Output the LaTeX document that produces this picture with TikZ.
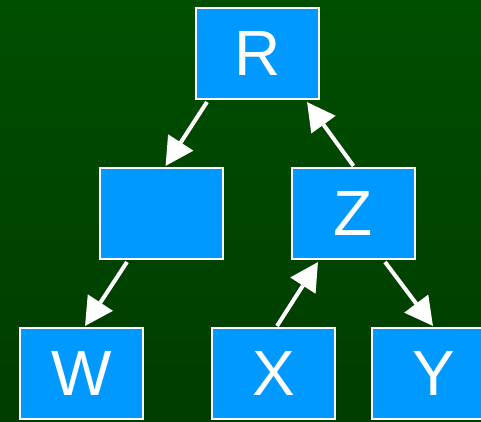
\documentclass[tikz,border=0pt]{standalone}
\usepackage{fontspec}
\setmainfont{Liberation Sans}
\usetikzlibrary{arrows.meta,calc}
\definecolor{boxblue}{HTML}{0099FF}
\definecolor{bgtop}{HTML}{004E00}
\definecolor{bgbot}{HTML}{003C00}
\tikzset{
  tbox/.style={draw=white, line width=2pt, fill=boxblue, minimum width=123pt, minimum height=91pt, inner sep=0pt, text=white, font=\fontsize{64}{64}\selectfont},
  tarrow/.style={draw=white, line width=4pt, -{Triangle[length=28pt,width=29pt]}}
}
\begin{document}
\begin{tikzpicture}[x=1pt,y=-1pt]
\shade[top color=bgtop, bottom color=bgbot] (0,0) rectangle (481,422);
\useasboundingbox (0,0) rectangle (481,422);
\node[tbox] (R) at (257.5,53.5) {R};
\node[tbox] (E) at (161.5,213.5) {};
\node[tbox] (Z) at (353.5,213.5) {Z};
\node[tbox] (W) at (81.5,373.5) {W};
\node[tbox] (X) at (273.5,373.5) {X};
\node[tbox] (Y) at (433.5,373.5) {Y};
\draw[tarrow] ($(R.south west)+(12,2)$) -- ($(E.north)+(4,-1)$);
\draw[tarrow] ($(Z.north)+(0,-1)$) -- ($(R.south east)+(-13,2)$);
\draw[tarrow] ($(E.south west)+(28,2)$) -- ($(W.north)+(3.5,-1)$);
\draw[tarrow] ($(X.north)+(3.5,-1)$) -- ($(Z.south west)+(27,2)$);
\draw[tarrow] ($(Z.south east)+(-31,2)$) -- ($(Y.north)+(-0.5,-1)$);
\end{tikzpicture}
\end{document}
